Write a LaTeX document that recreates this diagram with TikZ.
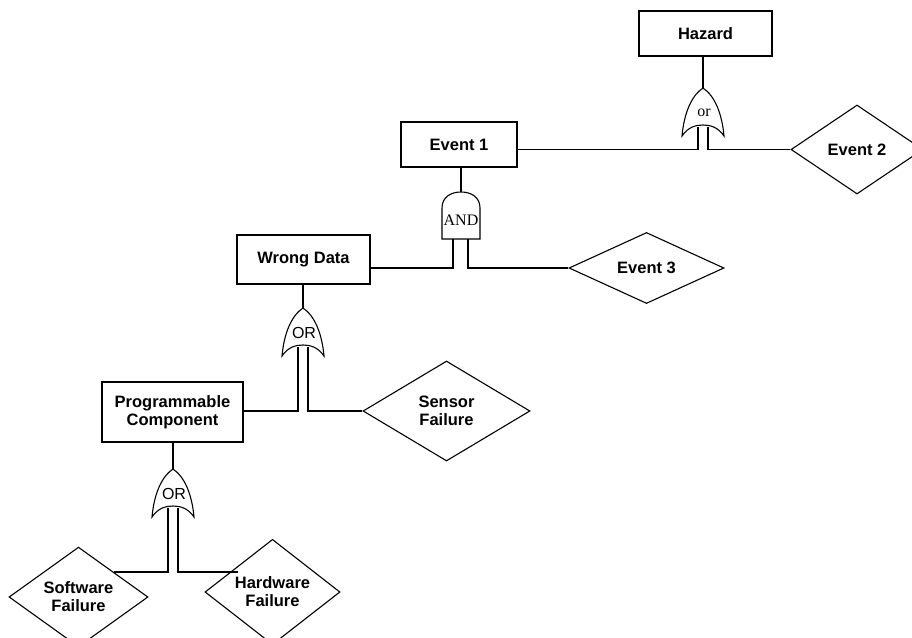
\documentclass[tikz,border=0pt]{standalone}
\usepackage{fontspec}
\setmainfont{Liberation Serif}
\setsansfont{Liberation Sans}
\usepackage{tikz}
\usetikzlibrary{shapes.geometric}
\tikzstyle{event} = [rectangle, inner sep=0pt, align=center, draw=black, font=\sffamily\bfseries\fontsize{16.5}{18.3}\selectfont]
\tikzstyle{basic} = [diamond, inner sep=0pt, align=center, draw=black, font=\sffamily\bfseries\fontsize{16.5}{18}\selectfont]
\tikzstyle{gate} = [draw=black, fill=white]
\tikzstyle{gatelabel} = [inner sep=0pt, font=\fontsize{16}{18}\selectfont]
\tikzset{
  orgate/.pic={
    \draw[gate] (0,0) .. controls (-12,8) and (-19,26) .. (-21,48)
      .. controls (-15,39) and (-7,37) .. (0,37)
      .. controls (7,37) and (15,39) .. (21,48)
      .. controls (19,26) and (12,8) .. (0,0) -- cycle;
    \node (-lbl) [gatelabel] at (1,25) {#1};
    \coordinate (-top) at (0,0);
    \coordinate (-in1) at (-5,39);
    \coordinate (-in2) at (5,39);
  },
  andgate/.pic={
    \draw[gate] (-19,47) -- (-19,16) .. controls (-19,5) and (-10,0) .. (0,0)
      .. controls (10,0) and (19,5) .. (19,16) -- (19,47) -- cycle;
    \node (-lbl) [gatelabel] at (0,28) {#1};
    \coordinate (-top) at (0,0);
    \coordinate (-in1) at (-8,47);
    \coordinate (-in2) at (7,47);
  }
}

\begin{document}
\begin{tikzpicture}[x=1pt, y=-1pt, line width=1.1pt]
        \useasboundingbox (0,0) rectangle (912,637);
        \clip (0,0) rectangle (912,637);

        % events
        \node (hazard) [event, minimum width=133pt, minimum height=45pt] at (705.5,33.5) {Hazard};
        \node (event1) [event, minimum width=116pt, minimum height=45pt] at (459,144.5) {Event 1};
        \node (wrongdata) [event, minimum width=133pt, minimum height=49pt] at (303.5,259.5) {Wrong Data};
        \node (progcomp) [event, minimum width=141pt, minimum height=60pt] at (172.5,412) {Programmable\\Component};

        % basic events
        \node (event2) [basic, minimum width=132pt, minimum height=89pt] at (857,149.5) {Event 2};
        \node (event3) [basic, minimum width=155pt, minimum height=71pt] at (646.5,268) {Event 3};
        \node (sensor) [basic, minimum width=167pt, minimum height=100pt] at (446.5,411) {Sensor\\Failure};
        \node (software) [basic, minimum width=139pt, minimum height=88pt] at (78.5,597) {Software\\Failure};
        \node (hardware) [basic, minimum width=135pt, minimum height=88pt] at (272.5,592) {Hardware\\Failure};
        \coordinate (swhw) at (0,572);

        % gates
        \pic (orhazard) at (703,88) {orgate={\rmfamily or}};
        \pic (andevent) at (461,192) {andgate={\rmfamily AND}};
        \pic (orwrong) at (303,308) {orgate={\sffamily OR}};
        \pic (orprog) at (173,469) {orgate={\sffamily OR}};

        \draw (orhazard-top) -- (orhazard-top |- hazard.south);
        \draw (orhazard-in1) |- (event1.east |- event2.west);
        \draw (orhazard-in2) |- (event2.west);

        \draw (andevent-top) -- (andevent-top |- event1.south);
        \draw (andevent-in1) |- (wrongdata.east |- event3.west);
        \draw (andevent-in2) |- (event3.west);

        \draw (orwrong-top) -- (orwrong-top |- wrongdata.south);
        \draw (orwrong-in1) |- (progcomp.east |- sensor.west);
        \draw (orwrong-in2) |- (sensor.west);

        \draw (orprog-top) -- (orprog-top |- progcomp.south);
        \draw (orprog-in1) |- (software.north east |- swhw);
        \draw (orprog-in2) |- (hardware.north west |- swhw);
    \end{tikzpicture}
\end{document}
